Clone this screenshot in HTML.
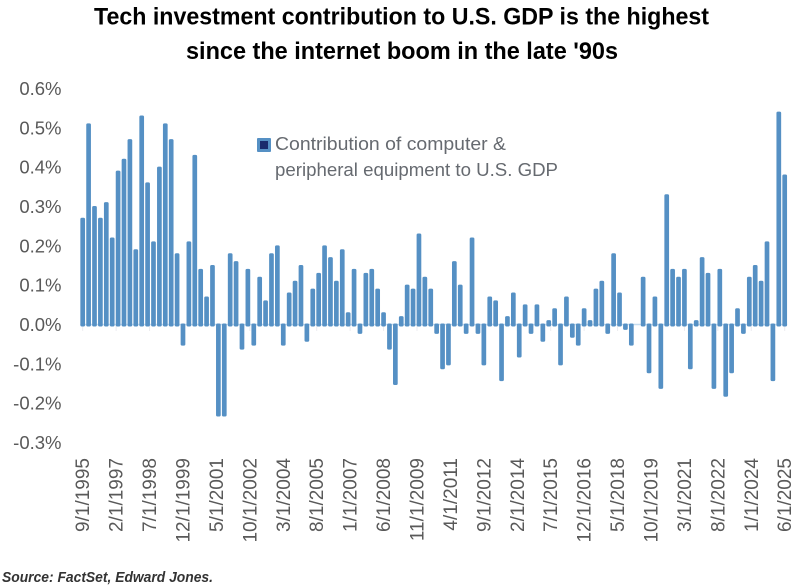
<!DOCTYPE html>
<html lang="en">
<head>
<meta charset="utf-8">
<title>Tech investment contribution to U.S. GDP</title>
<style>
html,body{margin:0;padding:0;background:#fff;width:803px;height:586px;overflow:hidden}
svg{display:block}
text{font-family:"Liberation Sans",sans-serif}
</style>
</head>
<body>
<svg id="chart" xmlns="http://www.w3.org/2000/svg" width="803" height="586" viewBox="0 0 803 586">
  <rect width="803" height="586" fill="#ffffff"/>
  <text x="94" y="24.5" font-size="24.5" font-weight="700" fill="#000" textLength="615" lengthAdjust="spacingAndGlyphs">Tech investment contribution to U.S. GDP is the highest</text>
  <text x="186" y="59" font-size="24.5" font-weight="700" fill="#000" textLength="432" lengthAdjust="spacingAndGlyphs">since the internet boom in the late '90s</text>
  <g id="y-axis"></g>
  <g id="x-axis"></g>
  <g id="bars"></g>
  <g>
    <rect x="257" y="138" width="14" height="14" rx="1" fill="#5590c4"/>
    <rect x="260" y="141" width="8" height="8" fill="#1a2a6c"/>
    <text x="275" y="150" font-size="18.5" fill="#666a70" textLength="231" lengthAdjust="spacingAndGlyphs">Contribution of computer &amp;</text>
    <text x="275" y="176" font-size="18.5" fill="#666a70" textLength="283" lengthAdjust="spacingAndGlyphs">peripheral equipment to U.S. GDP</text>
  </g>
  <text x="2" y="582" font-size="15" font-weight="700" font-style="italic" fill="#333" textLength="211" lengthAdjust="spacingAndGlyphs">Source: FactSet, Edward Jones.</text>
</svg>
<script>
const seriesValues = [
  0.27,0.51,0.30,0.27,0.31,0.22,0.39,0.42,0.47,0.19,
  0.53,0.36,0.21,0.40,0.51,0.47,0.18,-0.05,0.21,0.43,
  0.14,0.07,0.15,-0.23,-0.23,0.18,0.16,-0.06,0.14,-0.05,
  0.12,0.06,0.18,0.20,-0.05,0.08,0.11,0.15,-0.04,0.09,
  0.13,0.20,0.17,0.11,0.19,0.03,0.14,-0.02,0.13,0.14,
  0.09,0.03,-0.06,-0.15,0.02,0.10,0.09,0.23,0.12,0.09,
  -0.02,-0.11,-0.10,0.16,0.10,-0.02,0.22,-0.02,-0.10,0.07,
  0.06,-0.14,0.02,0.08,-0.08,0.05,-0.02,0.05,-0.04,0.01,
  0.04,-0.10,0.07,-0.03,-0.05,0.04,0.01,0.09,0.11,-0.02,
  0.18,0.08,-0.01,-0.05,0,0.12,-0.12,0.07,-0.16,0.33,
  0.14,0.12,0.14,-0.11,0.01,0.17,0.13,-0.16,0.14,-0.18,
  -0.12,0.04,-0.02,0.12,0.15,0.11,0.21,-0.14,0.54,0.38
];
const yTickValues = [0.6,0.5,0.4,0.3,0.2,0.1,0,-0.1,-0.2,-0.3];
const xTickLabels = ["9/1/1995","2/1/1997","7/1/1998","12/1/1999","5/1/2001","10/1/2002","3/1/2004","8/1/2005","1/1/2007","6/1/2008","11/1/2009","4/1/2011","9/1/2012","2/1/2014","7/1/2015","12/1/2016","5/1/2018","10/1/2019","3/1/2021","8/1/2022","1/1/2024","6/1/2025"];

const NS = "http://www.w3.org/2000/svg";
const plot = {x0: 82.7, x1: 784.7, y6: 88, yNeg3: 442, barWidth: 4.7};
const yScale = v => plot.yNeg3 + (v + 0.3) / 0.9 * (plot.y6 - plot.yNeg3);
const xScale = i => plot.x0 + i * (plot.x1 - plot.x0) / (seriesValues.length - 1);
const labelIndex = s => {
  const p = s.split("/").map(Number);
  const first = xTickLabels[0].split("/").map(Number);
  return ((p[2] - first[2]) * 12 + (p[0] - first[0])) / 3;
};
const make = (tag, attrs, parent, txt) => {
  const el = document.createElementNS(NS, tag);
  Object.keys(attrs).forEach(k => el.setAttribute(k, attrs[k]));
  if (txt !== undefined) el.textContent = txt;
  parent.appendChild(el);
  return el;
};

const yAxis = document.getElementById("y-axis");
yTickValues.forEach(v => {
  const t = make("text", {x: 61.5, y: yScale(v) + 7, "text-anchor": "end", "font-size": 18.5, fill: "#595959"}, yAxis, v.toFixed(1) + "%");
  
  
});

const xAxis = document.getElementById("x-axis");
const zero = yScale(0);
const baseline = make("line", {x1: plot.x0 - 2.5, x2: plot.x1 + 2.5, y1: zero + 0.5, y2: zero + 0.5, stroke: "#c5dcef", "stroke-width": 1.5}, xAxis);


xTickLabels.forEach(s => {
  const cx = xScale(labelIndex(s));
  const tick = make("line", {x1: cx, x2: cx, y1: zero + 1, y2: zero + 7, stroke: "#ececf0", "stroke-width": 1}, xAxis);
  
  
  const t = make("text", {transform: "translate(" + (cx + 6.5) + ",458) rotate(-90)", "text-anchor": "end", "font-size": 19, fill: "#595959"}, xAxis, s);
  
  
});

const barsGroup = document.getElementById("bars");
seriesValues.forEach((v, i) => {
  if (v === 0) return;
  const y = yScale(v);
  const top = v > 0 ? y : zero - 0.5;
  const h = v > 0 ? zero - y + 2.5 : y - zero + 2.5;
  const r = make("rect", {x: xScale(i) - plot.barWidth / 2, y: top, width: plot.barWidth, height: h, rx: 1.5, fill: "#5590c4"}, barsGroup);
  
  
});
</script>
</body>
</html>
